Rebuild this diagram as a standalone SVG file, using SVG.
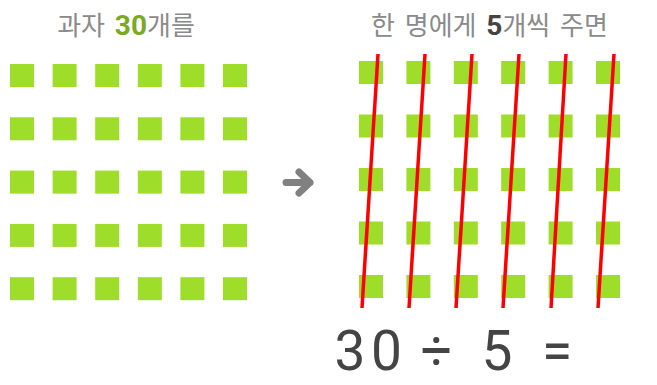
<svg xmlns="http://www.w3.org/2000/svg" width="657" height="385" viewBox="0 0 657 385">
<style>
.sq{fill:#9edd2a}
.t{font-family:"Noto Sans CJK KR","Noto Sans",sans-serif;font-size:26px;fill:#8a8a8a;word-spacing:4px}
.n{font-family:Roboto,sans-serif;font-weight:bold;font-size:28px}
.red{stroke:#ff0000;stroke-width:3.5;fill:none;stroke-linecap:butt}
.eq{font-family:Roboto,"Noto Sans",sans-serif;font-size:55px;fill:#444;text-anchor:middle}
</style>
<defs>
<rect id="s" class="sq" width="24" height="23"/>
<g id="row">
<use href="#s" x="0"/><use href="#s" x="42.6"/><use href="#s" x="85.2"/><use href="#s" x="127.8"/><use href="#s" x="170.4"/><use href="#s" x="213"/>
</g>
<g id="row2">
<use href="#s" x="0"/><use href="#s" x="47.4"/><use href="#s" x="94.8"/><use href="#s" x="142.2"/><use href="#s" x="189.6"/><use href="#s" x="237"/>
</g>
</defs>
<g id="title-left"><text class="t" x="126" y="35" text-anchor="middle">과자 <tspan class="n" fill="#7aaa1e">30</tspan>개를</text></g>
<g id="title-right"><text class="t" x="489.5" y="35" text-anchor="middle">한 명에게 <tspan class="n" fill="#444">5</tspan>개씩 주면</text></g>
<g id="grid-left">
<use href="#row" x="10" y="64"/><use href="#row" x="10" y="117.3"/><use href="#row" x="10" y="170.6"/><use href="#row" x="10" y="223.9"/><use href="#row" x="10" y="277.2"/>
</g>
<g id="grid-right">
<use href="#row2" x="359" y="61"/><use href="#row2" x="359" y="114.5"/><use href="#row2" x="359" y="168"/><use href="#row2" x="359" y="221.5"/><use href="#row2" x="359" y="275"/>
</g>
<g id="connectors">
<path d="M286 182.5 H310 M299 172 L310 182.5 L299 193" stroke="#808080" stroke-width="7" stroke-linecap="round" stroke-linejoin="round" fill="none"/>
<g id="cuts">
<line class="red" x1="378" y1="54" x2="362" y2="308"/>
<line class="red" x1="425" y1="54" x2="409" y2="308"/>
<line class="red" x1="472" y1="54" x2="456" y2="308"/>
<line class="red" x1="519" y1="54" x2="503" y2="308"/>
<line class="red" x1="566" y1="54" x2="551" y2="308"/>
<line class="red" x1="614" y1="54" x2="598" y2="308"/>
</g>
</g>
<g id="equation">
<text class="eq" x="350" y="370">3</text>
<text class="eq" x="386.5" y="370">0</text>
<text class="eq" x="436.5" y="370">÷</text>
<text class="eq" x="497" y="370">5</text>
<text class="eq" x="557" y="370">=</text>
</g>
</svg>
